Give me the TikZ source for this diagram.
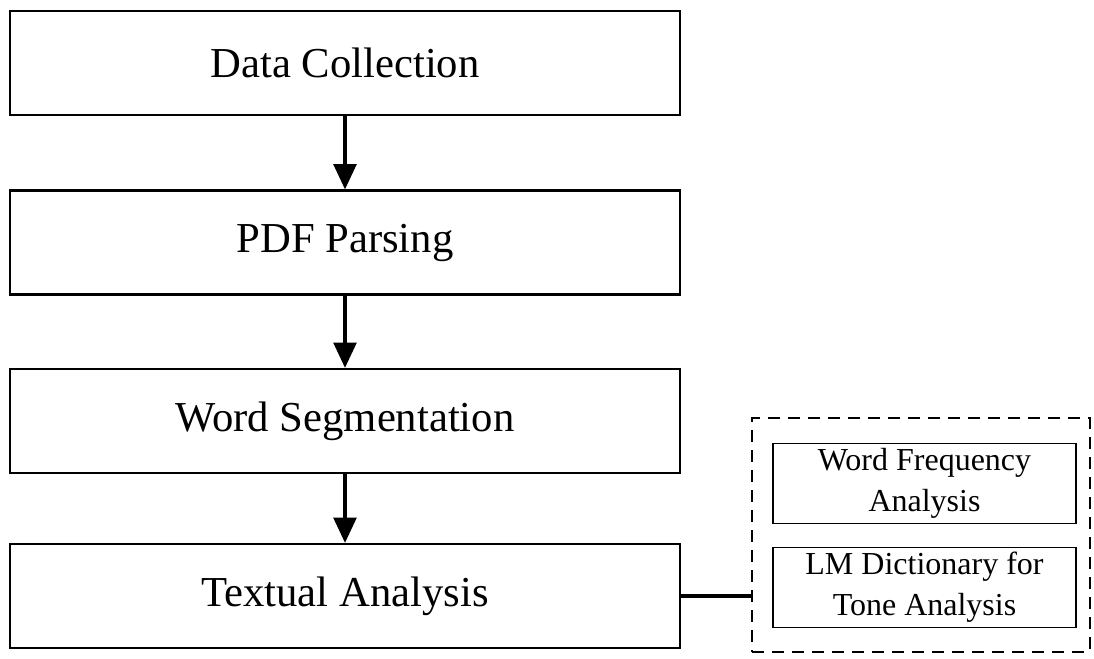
\documentclass[tikz,border=0pt]{standalone}
\usepackage{fontspec}
\setmainfont{Liberation Serif}
\usepackage{tikz}
\usetikzlibrary{arrows.meta, arrows}

\begin{document}
\begin{tikzpicture}[x=0.75pt, y=-0.75pt,
    stage/.style={draw, line width=1.6pt, minimum width=502pt, minimum height=78pt, inner sep=0pt, font=\fontsize{32}{38}\selectfont},
    sub/.style={draw, line width=1.4pt, minimum width=227pt, minimum height=60pt, inner sep=0pt, align=center, font=\fontsize{24}{31}\selectfont},
    flow/.style={line width=2.7pt, -{Triangle[length=19pt, width=17pt]}}]
    \useasboundingbox (0, 0) rectangle (1094, 659);
    \node[stage] (A) at (345, 63) {Data Collection};
    \node[stage] (B) at (345, 242.5) {PDF Parsing};
    \node[stage] (C) at (345, 421) {Word Segmentation};
    \node[stage] (D) at (345, 596) {Textual Analysis};
    \draw [flow] (A) -- (B);
    \draw [flow] (B) -- (C);
    \draw [flow] (C) -- (D);
    % tools used for the analysis
    \node[draw, line width=1.4pt, dash pattern=on 9pt off 6pt, minimum width=253pt, minimum height=175pt] (E) at (921, 535) {};
    \node[sub] (F) at (924.5, 483.5) {Word Frequency\\Analysis};
    \node[sub] (G) at (924.5, 587.5) {LM Dictionary for\\Tone Analysis};
    \draw [line width=2.7pt] (D.east) -- (D.east -| E.west);
  \end{tikzpicture}
\end{document}
